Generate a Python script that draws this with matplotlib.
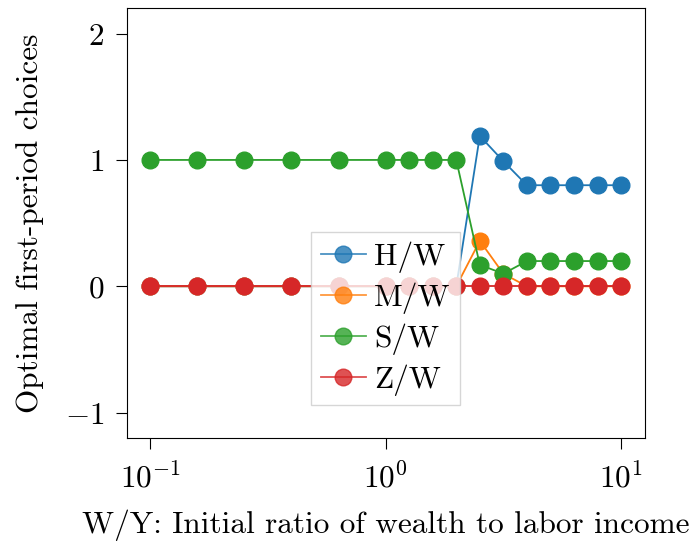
import numpy as np
import matplotlib
matplotlib.use("Agg")
import matplotlib.pyplot as plt

plt.rcParams['font.family'] = 'serif'
plt.rcParams['font.serif'] = ['cmr10']
plt.rcParams['mathtext.fontset'] = 'cm'
plt.rcParams['axes.formatter.use_mathtext'] = True

log_ratio = [-1.0, -0.8, -0.6, -0.4, -0.2, 0.0, 0.1, 0.2, 0.3, 0.4, 0.5, 0.6, 0.7, 0.8, 0.9, 1.0]
wealth_ratio = [10 ** v for v in log_ratio]
H = [0, 0, 0, 0, 0, 0, 0, 0, 0, 1.19, 0.99, 0.8, 0.8, 0.8, 0.8, 0.8]
M = [0, 0, 0, 0, 0, 0, 0, 0, 0, 0.36, 0.10, 0, 0, 0, 0, 0]
S = [1, 1, 1, 1, 1, 1, 1, 1, 1, 0.17, 0.10, 0.2, 0.2, 0.2, 0.2, 0.2]
Z = [0, 0, 0, 0, 0, 0, 0, 0, 0, 0, 0, 0, 0, 0, 0, 0]
series = [("H/W", H), ("M/W", M), ("S/W", S), ("Z/W", Z)]

FS = 22.5
fig = plt.figure(figsize=(6.9, 5.41), dpi=100)
ax = fig.add_axes([0.1836, 0.1904, 0.7506, 0.7943])
for label, vals in series:
    ax.plot(wealth_ratio, vals, marker='o', markersize=12, linewidth=1.3, label=label)
ax.set_xscale('log')
ax.minorticks_off()
ax.set_ylim(-1.2, 2.2)
ax.set_yticks([-1, 0, 1, 2])
ax.tick_params(axis='x', labelsize=FS, length=8, width=0.8, pad=9)
ax.tick_params(axis='y', labelsize=FS, length=8, width=0.8, pad=8)
ax.set_xlabel('W/Y: Initial ratio of wealth to labor income', fontsize=FS, labelpad=12)
ax.set_ylabel('Optimal first-period choices', fontsize=FS, labelpad=15)
leg = ax.legend(loc='upper center', bbox_to_anchor=(0.5, 0.479), fontsize=FS,
                handlelength=1.45, borderpad=0.3, labelspacing=0.3, handletextpad=0.25,
                borderaxespad=0, fancybox=False)
for h in leg.legend_handles:
    h.set_alpha(0.8)
fig.savefig('out.png', dpi=100)
